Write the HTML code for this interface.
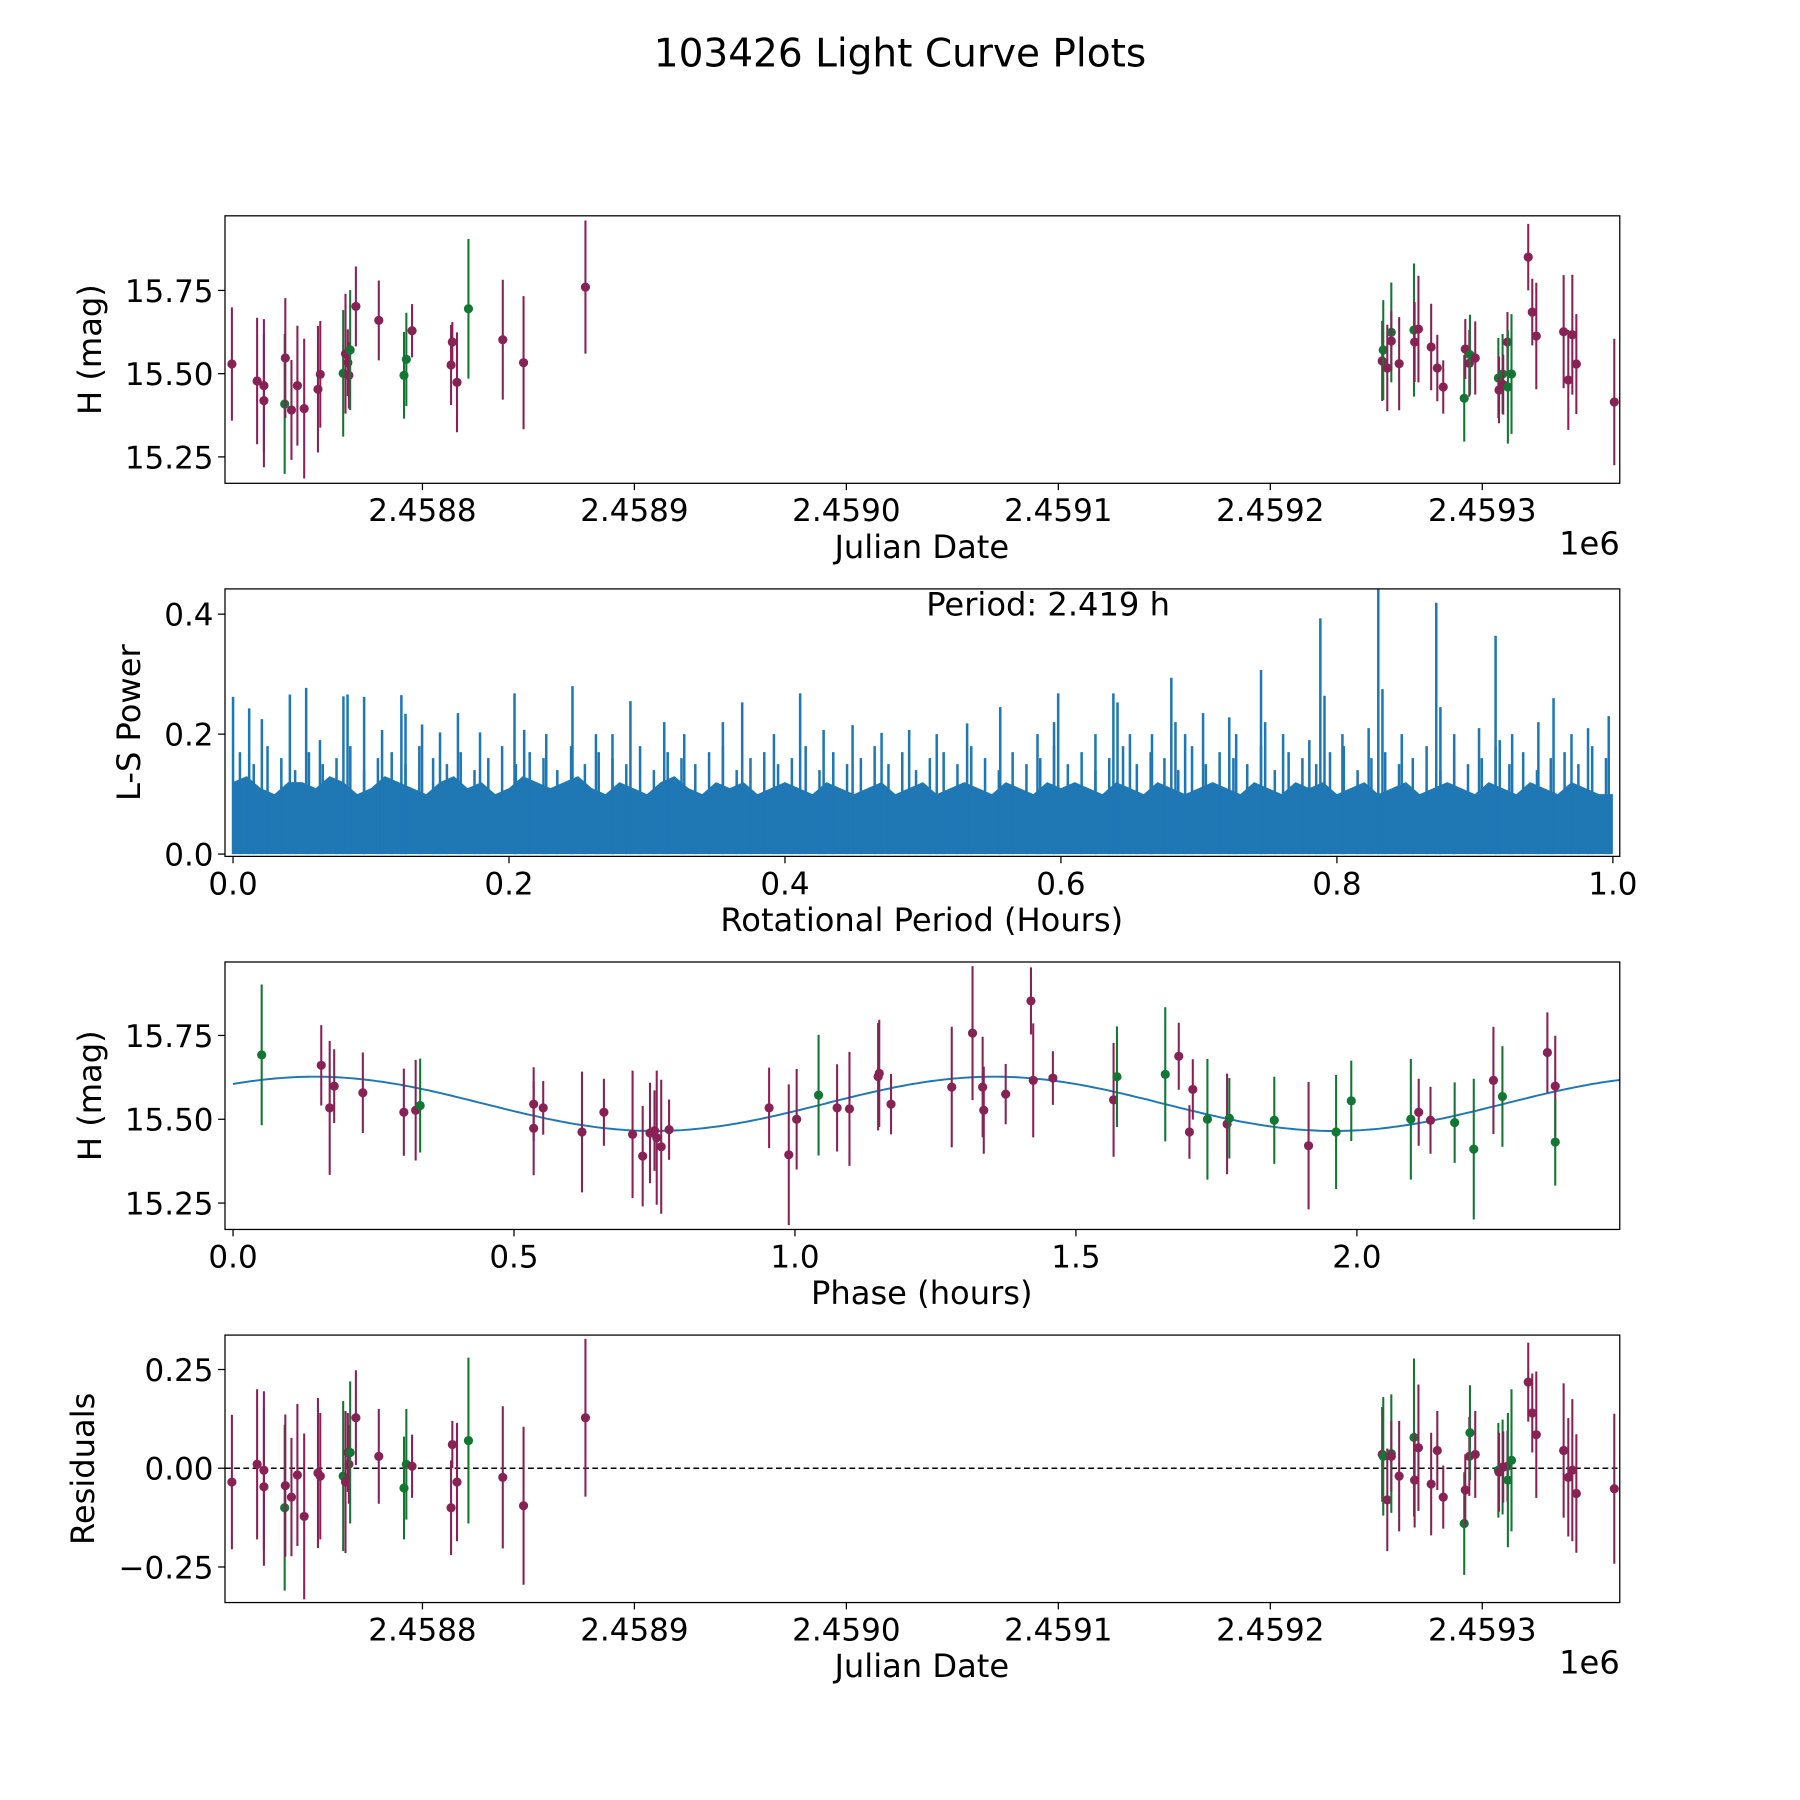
<!DOCTYPE html>
<html><head><meta charset="utf-8"><style>
html,body{margin:0;padding:0;background:#fff;}
svg{display:block;font-family:"DejaVu Sans","Liberation Sans",sans-serif;}
</style></head><body>
<svg id="fig" xmlns="http://www.w3.org/2000/svg" width="1800" height="1800" viewBox="0 0 1568 1568">
<rect width="1568" height="1568" fill="#fff"/>
<text x="784" y="58" font-size="34" text-anchor="middle">103426 Light Curve Plots</text>
</svg>
<script>
// ---------- data ----------
const jdOffset = [710.1,722.0,725.2,725.2,735.0,735.3,738.2,741.0,744.2,750.7,751.8,762.6,763.7,764.8,765.3,765.9,768.6,779.4,791.3,792.4,795.1,813.5,814.1,816.3,821.7,837.9,847.7,876.9,
1252.8,1253.3,1255.2,1257.1,1257.1,1260.8,1267.8,1268.1,1269.9,1275.9,1278.8,1281.6,1291.5,1292.0,1293.9,1294.2,1296.7,1307.6,1307.9,1309.6,1309.9,1311.9,1312.1,1313.8,1321.7,1323.6,1325.5,1338.4,1340.6,1342.5,1344.4,1362.3];
const mag = [15.529,15.478,15.464,15.419,15.409,15.547,15.391,15.464,15.395,15.453,15.498,15.501,15.560,15.533,15.495,15.571,15.702,15.660,15.495,15.543,15.629,15.526,15.595,15.474,15.695,15.602,15.533,15.760,
15.538,15.571,15.517,15.624,15.598,15.530,15.631,15.595,15.634,15.580,15.517,15.460,15.426,15.574,15.531,15.557,15.547,15.487,15.451,15.499,15.467,15.595,15.460,15.499,15.850,15.685,15.613,15.626,15.481,15.617,15.529,15.415];
const magErr = [0.17,0.19,0.20,0.20,0.21,0.18,0.15,0.18,0.21,0.19,0.16,0.19,0.18,0.10,0.10,0.18,0.12,0.12,0.13,0.14,0.08,0.12,0.06,0.15,0.21,0.18,0.20,0.20,
0.12,0.15,0.13,0.15,0.09,0.14,0.20,0.12,0.16,0.13,0.10,0.08,0.13,0.09,0.10,0.12,0.11,0.12,0.10,0.12,0.09,0.09,0.17,0.18,0.10,0.10,0.16,0.17,0.15,0.18,0.15,0.19];
const band = ['m','m','m','m','g','m','m','m','m','m','m','g','m','m','m','g','m','m','g','g','m','m','m','m','g','m','m','m',
'm','g','m','g','m','m','g','m','m','m','m','m','g','m','m','g','m','g','m','g','m','m','g','g','m','m','m','m','m','m','m','m'];
const residual = [-0.035,0.010,-0.005,-0.047,-0.100,-0.044,-0.073,-0.017,-0.122,-0.012,-0.020,-0.020,-0.035,0.040,0.010,0.040,0.128,0.030,-0.050,0.010,0.005,-0.100,0.060,-0.035,0.070,-0.023,-0.095,0.128,
0.035,0.030,-0.080,0.037,0.030,-0.020,0.078,-0.030,0.052,-0.040,0.045,-0.073,-0.140,-0.055,0.030,0.090,0.035,-0.005,-0.010,0.003,0.003,0.005,-0.030,0.020,0.218,0.140,0.085,0.045,-0.023,-0.005,-0.064,-0.052];

const phase = [0.051,0.157,0.172,0.180,0.231,0.304,0.325,0.333,0.535,0.535,0.552,0.621,0.660,0.711,0.729,0.742,0.750,0.754,0.762,0.776,0.954,0.989,1.003,1.042,1.075,1.097,1.148,1.150,1.171,1.279,1.316,1.334,1.336,1.375,1.420,1.424,1.459,1.567,1.573,1.659,1.683,1.702,1.708,1.734,1.769,1.773,1.853,1.914,1.963,1.990,2.096,2.110,2.131,2.174,2.243,2.208,2.259,2.339,2.353,2.353];
const phaseMag = [15.692,15.661,15.534,15.599,15.579,15.521,15.527,15.541,15.545,15.473,15.534,15.462,15.521,15.455,15.390,15.459,15.466,15.445,15.418,15.469,15.534,15.394,15.500,15.572,15.534,15.531,15.627,15.637,15.545,15.596,15.757,15.596,15.527,15.575,15.853,15.616,15.623,15.558,15.627,15.634,15.688,15.462,15.589,15.500,15.486,15.503,15.497,15.421,15.462,15.555,15.500,15.521,15.497,15.490,15.616,15.411,15.568,15.699,15.599,15.432];
const phaseErr = [0.21,0.12,0.20,0.11,0.12,0.13,0.15,0.14,0.11,0.14,0.08,0.18,0.10,0.19,0.15,0.15,0.12,0.20,0.20,0.09,0.12,0.21,0.15,0.18,0.13,0.17,0.16,0.16,0.09,0.18,0.20,0.15,0.13,0.09,0.10,0.17,0.08,0.17,0.15,0.20,0.10,0.08,0.09,0.18,0.15,0.12,0.13,0.19,0.17,0.12,0.18,0.10,0.10,0.12,0.16,0.21,0.15,0.12,0.15,0.13];
const phaseBand = ['g','m','m','m','m','m','m','g','m','m','m','m','m','m','m','m','m','m','m','m','m','m','m','g','m','m','m','m','m','m','m','m','m','m','m','m','m','m','g','g','m','m','m','g','m','g','g','m','g','g','g','m','m','g','m','g','g','m','m','g'];

const modelMean = 15.546, modelAmp = 0.081, modelPeak = 0.145, modelHalfPeriod = 1.2095;

const peakPeriod = [0.0,0.0117,0.0209,0.0412,0.053,0.063,0.080,0.083,0.095,0.108,0.122,0.125,0.137,0.150,0.163,0.179,0.204,0.211,0.227,0.246,0.263,0.275,0.288,0.3125,0.327,0.355,0.369,0.392,0.411,0.428,0.449,0.470,0.490,0.510,0.532,0.556,0.583,0.595,0.598,0.625,0.638,0.641,0.650,0.666,0.680,0.683,0.690,0.703,0.722,0.727,0.745,0.748,0.761,0.780,0.788,0.791,0.804,0.823,0.830,0.833,0.847,0.872,0.875,0.885,0.903,0.915,0.918,0.927,0.946,0.957,0.970,0.982,0.997];
const peakPower = [0.262,0.243,0.225,0.266,0.277,0.190,0.263,0.266,0.262,0.207,0.265,0.234,0.216,0.203,0.235,0.203,0.268,0.207,0.200,0.280,0.200,0.200,0.255,0.220,0.200,0.220,0.253,0.200,0.268,0.207,0.215,0.202,0.207,0.200,0.218,0.245,0.200,0.220,0.268,0.200,0.268,0.253,0.200,0.200,0.294,0.220,0.200,0.235,0.228,0.200,0.307,0.220,0.200,0.190,0.393,0.264,0.200,0.210,0.460,0.275,0.200,0.419,0.245,0.200,0.210,0.364,0.190,0.200,0.220,0.260,0.200,0.210,0.230];
const midPower = [0.17,0.15,0.18,0.16,0.14,0.17,0.15,0.16,0.18,0.14,0.16,0.17,0.15,0.18,0.16,0.15,0.17,0.14,0.16,0.18,0.15,0.17,0.16,0.14,0.18,0.15,0.17,0.16,0.15,0.18,0.14,0.17,0.16,0.15,0.17,0.18,0.14,0.16,0.17,0.15,0.16,0.18,0.14,0.17,0.15,0.16,0.18,0.15,0.17,0.14,0.16,0.17,0.15,0.18,0.16,0.14,0.17,0.15,0.16,0.18,0.15,0.17,0.14,0.16,0.18,0.15,0.17,0.16,0.14,0.18,0.15,0.17,0.16,0.15,0.18,0.14,0.17,0.16,0.15,0.17,0.18,0.14,0.16,0.17,0.15,0.16,0.18,0.14,0.17,0.15,0.16,0.18,0.15,0.17,0.14,0.16,0.17,0.15,0.18,0.16];
const floorPower = [0.12,0.13,0.11,0.10,0.12,0.12,0.11,0.13,0.12,0.10,0.11,0.13,0.12,0.11,0.10,0.12,0.13,0.11,0.12,0.10,0.11,0.13,0.12,0.11,0.12,0.13,0.11,0.10,0.12,0.11,0.10,0.12,0.13,0.11,0.10,0.12,0.11,0.12,0.10,0.11,0.12,0.11,0.10,0.12,0.11,0.10,0.11,0.12,0.10,0.11,0.12,0.10,0.11,0.12,0.11,0.10,0.12,0.11,0.10,0.12,0.11,0.12,0.11,0.10,0.12,0.11,0.10,0.12,0.11,0.10,0.11,0.12,0.11,0.10,0.12,0.11,0.10,0.12,0.11,0.12,0.10,0.11,0.12,0.10,0.11,0.12,0.10,0.11,0.12,0.11,0.10,0.12,0.11,0.10,0.12,0.11,0.10,0.12,0.11,0.10,0.10];

const jdTicks = [800,900,1000,1100,1200,1300];
const jdTickLabels = ['2.4588','2.4589','2.4590','2.4591','2.4592','2.4593'];
const magTicks = [15.25,15.50,15.75];
const magTickLabels = ['15.25','15.50','15.75'];
const powTicks = [0.0,0.2,0.4];
const powTickLabels = ['0.0','0.2','0.4'];
const perTicks = [0,0.2,0.4,0.6,0.8,1.0];
const perTickLabels = ['0.0','0.2','0.4','0.6','0.8','1.0'];
const phTicks = [0,0.5,1.0,1.5,2.0];
const phTickLabels = ['0.0','0.5','1.0','1.5','2.0'];
const resTicks = [-0.25,0,0.25];
const resTickLabels = ['\u22120.25','0.00','0.25'];

// ---------- drawing ----------
const NS='http://www.w3.org/2000/svg';
const svg=document.getElementById('fig');
const COL={m:'#882255',g:'#117733'};
function mk(tag,attrs,parent){const e=document.createElementNS(NS,tag);for(const k in attrs)e.setAttribute(k,attrs[k]);(parent||svg).appendChild(e);return e;}
const L=196,R=1411;
function lin(d0,d1,p0,p1){return v=>p0+(v-d0)*(p1-p0)/(d1-d0);}

function panel(name,top,bot,sx,sy,xt,xtl,yt,ytl,xlabel,ylabel,ylabX,extra){
  const g=mk('g',{});
  
  
  const cid='clip-'+name;
  const cp=mk('clipPath',{id:cid},g);mk('rect',{x:L,y:top,width:R-L,height:bot-top},cp);
  const plot=mk('g',{'clip-path':'url(#'+cid+')'},g);
  
  
  xt.forEach((v,i)=>{const x=sx(v);
    const t=mk('line',{x1:x,x2:x,y1:bot,y2:bot+6,stroke:'#000','stroke-width':1.1},g);
    
    
    const tx=mk('text',{x:x,y:bot+33,'font-size':27,'text-anchor':'middle'},g);tx.textContent=xtl[i];
    
    });
  yt.forEach((v,i)=>{const y=sy(v);
    const t=mk('line',{x1:L-6,x2:L,y1:y,y2:y,stroke:'#000','stroke-width':1.1},g);
    
    
    const tx=mk('text',{x:L-10,y:y+10,'font-size':27,'text-anchor':'end'},g);tx.textContent=ytl[i];
    
    });
  const xl=mk('text',{x:803,y:bot+65,'font-size':28,'text-anchor':'middle'},g);xl.textContent=xlabel;
  
  
  const cy=(top+bot)/2;
  const yl=mk('text',{x:ylabX,y:cy,'font-size':28,'text-anchor':'middle',transform:'rotate(-90 '+ylabX+' '+cy+')'},g);yl.textContent=ylabel;
  
  
  if(extra){const ex=mk('text',{x:R,y:bot+62,'font-size':28,'text-anchor':'end'},g);ex.textContent=extra;
    
    }
  return {g,plot,frame:()=>{const f=mk('rect',{x:L,y:top,width:R-L,height:bot-top,fill:'none',stroke:'#000','stroke-width':1.1},g);
    
    }};
}
function errPoint(plot,x,y0,y1,yc,c,name){
  const eb=mk('line',{x1:x,x2:x,y1:y0,y2:y1,stroke:c,'stroke-width':1.8},plot);
  
  
  const pt=mk('circle',{cx:x,cy:yc,r:4,fill:c},plot);
  
  
}

// Panel 1
const sxJD=lin(800,1300,368,1291.2);
const sy1=lin(15.25,15.75,398,253);
const p1=panel('light-curve-panel',188,421,sxJD,sy1,jdTicks,jdTickLabels,magTicks,magTickLabels,'Julian Date','H (mag)',88,'1e6');
jdOffset.forEach((d,i)=>errPoint(p1.plot,sxJD(d),sy1(mag[i]-magErr[i]),sy1(mag[i]+magErr[i]),sy1(mag[i]),COL[band[i]],'data-point'));
p1.frame();

// Panel 2
const sxP=lin(0,1,203,1405);
const sy2=lin(0,0.4,744,535);
const p2=panel('periodogram-panel',513,746,sxP,sy2,perTicks,perTickLabels,powTicks,powTickLabels,'Rotational Period (Hours)','L-S Power',122,null);
let dpath='M'+sxP(0)+' '+sy2(0);
floorPower.forEach((v,i)=>{const x=sxP(i/(floorPower.length-1));dpath+=' L'+x.toFixed(1)+' '+sy2(v).toFixed(1);});
dpath+=' L'+sxP(1)+' '+sy2(0)+' Z';
const fl=mk('path',{d:dpath,fill:'#1f77b4'},p2.plot);


midPower.forEach((v,i)=>{const x=sxP((i+0.5)/midPower.length);
  const ln=mk('line',{x1:x,x2:x,y1:sy2(0),y2:sy2(v),stroke:'#1f77b4','stroke-width':2.2},p2.plot);
  
  });
peakPeriod.forEach((p,i)=>{const x=sxP(p);
  const ln=mk('line',{x1:x,x2:x,y1:sy2(0),y2:sy2(peakPower[i]),stroke:'#1f77b4','stroke-width':2.2},p2.plot);
  
  });
const pt=mk('text',{x:913,y:536,'font-size':28,'text-anchor':'middle'},p2.g);pt.textContent='Period: 2.419 h';


p2.frame();

// Panel 3
const sxPh=lin(0,2,203,1182);
const sy3=lin(15.25,15.75,1048,902);
const p3=panel('phase-fold-panel',838,1071,sxPh,sy3,phTicks,phTickLabels,magTicks,magTickLabels,'Phase (hours)','H (mag)',88,null);
let mp='';
for(let k=0;k<=300;k++){const ph=k/300*2.468;const v=modelMean+modelAmp*Math.cos(2*Math.PI*(ph-modelPeak)/modelHalfPeriod);
  mp+=(k?' L':'M')+sxPh(ph).toFixed(1)+' '+sy3(v).toFixed(1);}
const ml=mk('path',{d:mp,fill:'none',stroke:'#1f77b4','stroke-width':1.7},p3.plot);


phase.forEach((p,i)=>errPoint(p3.plot,sxPh(p),sy3(phaseMag[i]-phaseErr[i]),sy3(phaseMag[i]+phaseErr[i]),sy3(phaseMag[i]),COL[phaseBand[i]],'phase-point'));
p3.frame();

// Panel 4
const sy4=lin(-0.25,0.25,1365,1193);
const p4=panel('residuals-panel',1163,1396,sxJD,sy4,jdTicks,jdTickLabels,resTicks,resTickLabels,'Julian Date','Residuals',82,'1e6');
const zl=mk('line',{x1:L,x2:R,y1:sy4(0),y2:sy4(0),stroke:'#000','stroke-width':1.3,'stroke-dasharray':'5,3'},p4.plot);


jdOffset.forEach((d,i)=>errPoint(p4.plot,sxJD(d),sy4(residual[i]-magErr[i]),sy4(residual[i]+magErr[i]),sy4(residual[i]),COL[band[i]],'residual-point'));
p4.frame();
</script>
</body></html>
